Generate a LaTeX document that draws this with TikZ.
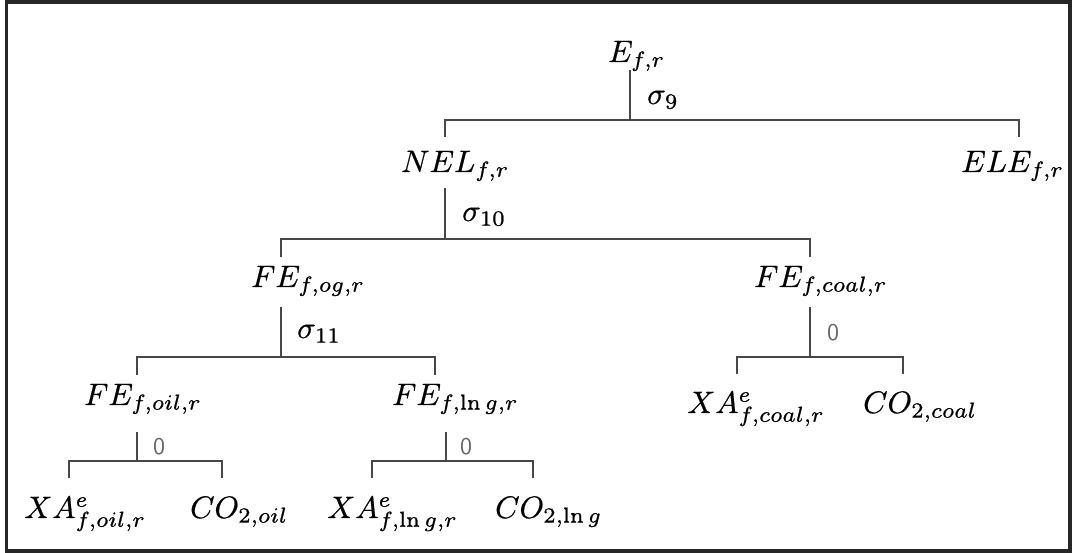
\documentclass[tikz,border=0pt]{standalone}
\usepackage{amsmath}
\usepackage{graphicx}
\newcommand{\treemath}[1]{\scalebox{3.1}{\special{pdf:literal 2 Tr 0.06 w}$#1$\special{pdf:literal 0 Tr}}}
\newcommand{\zlab}[1]{\scalebox{2.4}{\sffamily #1}}
\begin{document}
\begin{tikzpicture}[x=1pt,y=-1pt,
  t/.style={inner sep=0pt, anchor=base west, font=\fontsize{10}{12}\selectfont},
  zero/.style={inner sep=0pt, anchor=base west, font=\fontsize{10}{12}\selectfont, text=black!60},
  conn/.style={draw=black!72, line width=1.4pt}]
\useasboundingbox (0,0) rectangle (1072,553);
\draw[line width=3.6pt, draw=black!85] (6.5,2) rectangle (1070,551);

% nodes
\node[t] (E)    at (608,62)  {\treemath{E_{f,r}}};
\node[t] (NEL)  at (401,172) {\treemath{NEL_{f,r}}};
\node[t] (ELE)  at (961,172) {\treemath{ELE_{f,r}}};
\node[t] (FEog) at (251,287) {\treemath{FE_{f,og,r}}};
\node[t] (FEcoal) at (754,287) {\treemath{FE_{f,coal,r}}};
\node[t] (FEoil) at (84,405) {\treemath{FE_{f,oil,r}}};
\node[t] (FElng) at (392,405) {\treemath{FE_{f,\ln g,r}}};
\node[t] (XAcoal) at (687,413) {\treemath{XA^{e}_{f,coal,r}}};
\node[t] (COcoal) at (863,413) {\treemath{CO_{2,coal}}};
\node[t] (XAoil) at (24,518) {\treemath{XA^{e}_{f,oil,r}}};
\node[t] (COoil) at (190,518) {\treemath{CO_{2,oil}}};
\node[t] (XAlng) at (327,518) {\treemath{XA^{e}_{f,\ln g,r}}};
\node[t] (COlng) at (495,518) {\treemath{CO_{2,\ln g}}};

% labels
\node[t] (s9)  at (647,104) {\treemath{\sigma_9}};
\node[t] (s10) at (462,221) {\treemath{\sigma_{10}}};
\node[t] (s11) at (297,338) {\treemath{\sigma_{11}}};
\node[zero] (z1) at (827,341) {\zlab{0}};
\node[zero] (z2) at (153,455) {\zlab{0}};
\node[zero] (z3) at (460,455) {\zlab{0}};

% connector points
\coordinate (E-s) at (630,70);   \coordinate (E-j) at (630,120);
\coordinate (NEL-n) at (445,137); \coordinate (ELE-n) at (1019,137);
\coordinate (NEL-s) at (445,188); \coordinate (NEL-j) at (445,239);
\coordinate (FEog-n) at (281,257); \coordinate (FEcoal-n) at (810,257);
\coordinate (FEog-s) at (281,307); \coordinate (FEog-j) at (281,357);
\coordinate (FEoil-n) at (137,375); \coordinate (FElng-n) at (435,375);
\coordinate (FEcoal-s) at (810,307); \coordinate (FEcoal-j) at (810,357);
\coordinate (XAcoal-n) at (737,374); \coordinate (COcoal-n) at (903,374);
\coordinate (FEoil-s) at (137,432); \coordinate (FEoil-j) at (137,461);
\coordinate (XAoil-n) at (69,478); \coordinate (COoil-n) at (222,478);
\coordinate (FElng-s) at (446,432); \coordinate (FElng-j) at (446,461);
\coordinate (XAlng-n) at (372,478); \coordinate (COlng-n) at (533,478);

\draw[conn] (E-s) -- (E-j);
\draw[conn] (NEL-n) |- (E-j) -| (ELE-n);
\draw[conn] (NEL-s) -- (NEL-j);
\draw[conn] (FEog-n) |- (NEL-j) -| (FEcoal-n);
\draw[conn] (FEog-s) -- (FEog-j);
\draw[conn] (FEoil-n) |- (FEog-j) -| (FElng-n);
\draw[conn] (FEcoal-s) -- (FEcoal-j);
\draw[conn] (XAcoal-n) |- (FEcoal-j) -| (COcoal-n);
\draw[conn] (FEoil-s) -- (FEoil-j);
\draw[conn] (XAoil-n) |- (FEoil-j) -| (COoil-n);
\draw[conn] (FElng-s) -- (FElng-j);
\draw[conn] (XAlng-n) |- (FElng-j) -| (COlng-n);
\end{tikzpicture}
\end{document}
